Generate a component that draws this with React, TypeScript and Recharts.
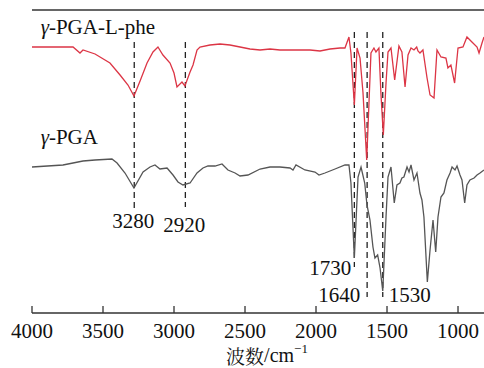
import React from 'react';
import { LineChart, Line, XAxis, YAxis, ReferenceLine, ReferenceDot } from 'recharts';

// wavenumbers (cm-1) and signal (arbitrary units, offset spectra)
const pheWave = [4000, 3711, 3662, 3641, 3556, 3451, 3380, 3324, 3282, 3239, 3190, 3148, 3113, 3078, 3028, 3000, 2979, 2944, 2923, 2887, 2866, 2838, 2817, 2747, 2676, 2606, 2535, 2465, 2394, 2324, 2254, 2183, 2113, 2042, 1972, 1901, 1831, 1796, 1768, 1754, 1730, 1711, 1690, 1669, 1643, 1627, 1613, 1592, 1578, 1557, 1543, 1526, 1507, 1493, 1472, 1446, 1416, 1395, 1373, 1352, 1331, 1310, 1291, 1282, 1268, 1247, 1218, 1197, 1169, 1148, 1120, 1085, 1071, 1050, 1024, 1000, 965, 937, 902, 866, 852, 831, 817];
const pheSignal = [266, 266, 260, 263, 259, 250, 238, 228, 217, 232, 250, 261, 266, 258, 250, 240, 226, 231, 227, 241, 248, 263, 266, 268, 269, 268, 266, 264, 263, 264, 263, 263, 263, 263, 262, 264, 265, 265, 276, 260, 208, 265, 255, 220, 153, 210, 260, 265, 261, 265, 220, 178, 230, 261, 265, 233, 267, 261, 226, 258, 265, 263, 266, 262, 260, 263, 235, 218, 215, 263, 256, 255, 245, 248, 230, 265, 266, 276, 271, 266, 260, 270, 276];

const pgaWave = [4000, 3782, 3711, 3641, 3556, 3437, 3401, 3345, 3282, 3218, 3169, 3134, 3099, 3049, 3007, 2972, 2937, 2887, 2838, 2796, 2761, 2711, 2662, 2620, 2570, 2535, 2479, 2394, 2324, 2254, 2183, 2162, 2141, 2078, 2007, 1979, 1937, 1866, 1796, 1768, 1754, 1730, 1704, 1683, 1657, 1641, 1620, 1599, 1585, 1566, 1549, 1530, 1507, 1493, 1472, 1449, 1430, 1409, 1395, 1381, 1359, 1345, 1331, 1310, 1289, 1268, 1254, 1240, 1216, 1197, 1176, 1157, 1141, 1120, 1099, 1078, 1056, 1042, 1021, 1007, 986, 972, 953, 937, 916, 887, 866, 845, 817];
const pgaSignal = [146, 148, 150, 152, 153, 154, 150, 140, 125, 141, 146, 148, 144, 145, 138, 131, 128, 130, 140, 145, 147, 147, 149, 143, 140, 137, 138, 144, 146, 146, 145, 143, 148, 143, 141, 138, 140, 144, 148, 148, 130, 55, 136, 146, 130, 108, 93, 66, 55, 58, 45, 22, 96, 136, 146, 110, 128, 130, 135, 136, 146, 141, 148, 133, 140, 120, 113, 96, 31, 63, 93, 61, 96, 116, 120, 133, 140, 146, 143, 147, 138, 133, 110, 128, 133, 135, 138, 140, 143];

const xTicks = [4000, 3500, 3000, 2500, 2000, 1500, 1000];

// marked peaks: wavenumber, top and bottom of the dashed guide
const peakWave = [3280, 2920, 1730, 1640, 1530];
const peakTop = [271, 271, 281, 281, 281];
const peakBottom = [105, 106, 46, 16, 16];

const pheData = pheWave.map((w, i) => ({ w, v: pheSignal[i] }));
const pgaData = pgaWave.map((w, i) => ({ w, v: pgaSignal[i] }));

const serif = '"Liberation Serif", "Times New Roman", serif';
const cjkSerif = '"Noto Serif CJK SC", "Noto Sans CJK SC", serif';
const axisColor = '#333';
const textColor = '#111';

const BottomTick = (props: any) => {
  const { x, y, payload } = props;
  return (
    <g>
      <line x1={x} x2={x} y1={y - 7} y2={y} stroke={axisColor} strokeWidth={1.3} />
      <text x={x} y={y + 18} textAnchor="middle" dominantBaseline="central" fontFamily={serif} fontSize={21} fill={textColor}>
        {payload.value}
      </text>
    </g>
  );
};

const tag = (content: React.ReactNode, anchor: 'start' | 'middle' | 'end', dx = 0) => (props: any) => {
  const { viewBox } = props;
  return (
    <text x={viewBox.x + dx} y={viewBox.y} textAnchor={anchor} dominantBaseline="central" fontFamily={serif} fontSize={21} fill={textColor}>
      {content}
    </text>
  );
};

const AxisTitle = (props: any) => {
  const { viewBox } = props;
  return (
    <text x={viewBox.x + viewBox.width / 2 + 9} y={viewBox.y + 42} textAnchor="middle" dominantBaseline="central" fontFamily={serif} fontSize={20} fill={textColor}>
      <tspan fontFamily={cjkSerif} fontSize={19}>波数</tspan>
      <tspan>/cm</tspan>
      <tspan fontSize={13} dy={-7}>−1</tspan>
    </text>
  );
};

export default function App() {
  return (
    <div style={{ position: 'absolute', left: 0, top: 0, width: 484, height: 368, background: '#fff' }}>
      <LineChart width={484} height={368} margin={{ top: 10, right: 0, left: 32, bottom: 0 }}>
        <XAxis
          type="number"
          dataKey="w"
          domain={[817, 4000]}
          reversed
          allowDataOverflow
          ticks={xTicks}
          interval={0}
          height={55}
          tickSize={0}
          tickMargin={0}
          tick={<BottomTick />}
          axisLine={{ stroke: axisColor, strokeWidth: 1.5 }}
          label={{ content: <AxisTitle /> }}
        />
        <YAxis
          type="number"
          domain={[0, 303]}
          width={0}
          tick={false}
          tickLine={false}
          axisLine={{ stroke: axisColor, strokeWidth: 1.5 }}
        />
        <ReferenceLine y={303} stroke={axisColor} strokeWidth={1.5} />
        {peakWave.map((w, i) => (
          <ReferenceLine
            key={w}
            segment={[{ x: w, y: peakTop[i] }, { x: w, y: peakBottom[i] }]}
            stroke="#222"
            strokeWidth={1.3}
            strokeDasharray="6 4"
            ifOverflow="visible"
          />
        ))}
        <Line data={pheData} dataKey="v" type="linear" stroke="#dc3545" strokeWidth={1.3} dot={false} isAnimationActive={false} />
        <Line data={pgaData} dataKey="v" type="linear" stroke="#555" strokeWidth={1.3} dot={false} isAnimationActive={false} />
        <ReferenceDot x={3939} y={286} r={0} fill="none" stroke="none" label={{ content: tag(<><tspan fontStyle="italic">γ</tspan>-PGA-L-phe</>, 'start') }} />
        <ReferenceDot x={3939} y={176} r={0} fill="none" stroke="none" label={{ content: tag(<><tspan fontStyle="italic">γ</tspan>-PGA</>, 'start') }} />
        <ReferenceDot x={3280} y={92} r={0} fill="none" stroke="none" label={{ content: tag('3280', 'middle', -1) }} />
        <ReferenceDot x={2920} y={88} r={0} fill="none" stroke="none" label={{ content: tag('2920', 'middle', -1) }} />
        <ReferenceDot x={1730} y={45} r={0} fill="none" stroke="none" label={{ content: tag('1730', 'end', -3) }} />
        <ReferenceDot x={1640} y={18} r={0} fill="none" stroke="none" label={{ content: tag('1640', 'end', -7) }} />
        <ReferenceDot x={1530} y={18} r={0} fill="none" stroke="none" label={{ content: tag('1530', 'start', 6) }} />
      </LineChart>
    </div>
  );
}
